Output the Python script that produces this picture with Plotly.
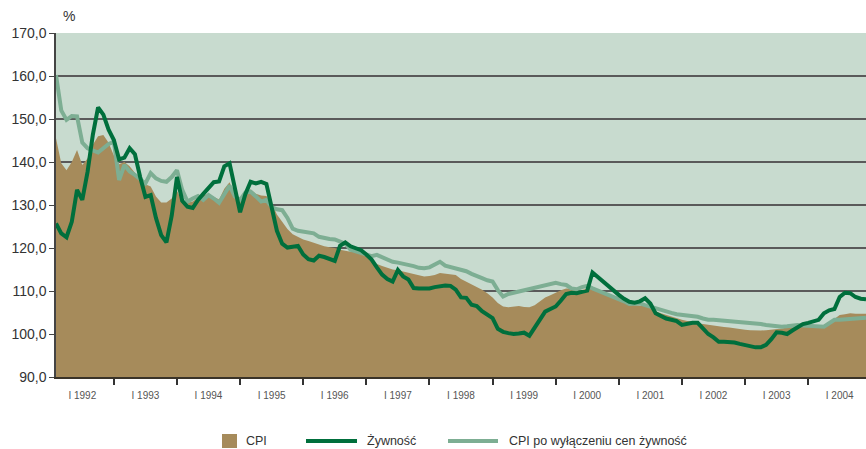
import plotly.graph_objects as go

# Monthly observations (index 0 = first month of 1992)
cpi = [145.5, 139.7, 138.1, 140.0, 142.8, 139.3, 140.8, 144.0, 146.0, 146.3,
       144.5, 141.5, 139.5, 140.0, 139.0, 137.4, 136.0, 134.8, 134.3, 132.0,
       130.6, 130.6, 131.5, 133.3, 130.8, 130.5, 130.8, 131.7, 132.3, 132.5,
       131.8, 131.3, 133.8, 135.3, 132.3, 131.0, 133.2, 133.6, 132.6, 132.2,
       132.1, 130.5, 127.8, 126.0, 124.4, 123.2, 122.5, 122.0, 121.6, 121.2,
       120.7, 120.4, 120.2, 120.0, 119.6, 119.3, 119.1, 119.0, 118.8, 118.1,
       117.2, 116.3, 115.8, 115.4, 115.0, 114.8, 114.5, 114.2, 113.9, 113.6,
       113.4, 113.5, 113.7, 114.2, 114.0, 113.8, 113.7, 112.8, 112.2, 111.6,
       111.0, 110.3, 109.5, 108.5, 107.2, 106.4, 106.2, 106.3, 106.5, 106.3,
       106.2, 106.7, 107.6, 108.5, 109.0, 109.6, 110.2, 110.6, 110.5, 109.9,
       110.3, 110.6, 110.4, 110.0, 109.8, 109.5, 108.9, 108.3, 107.6, 107.0,
       106.7, 106.6, 106.5, 106.2, 105.3, 104.8, 104.4, 104.0, 103.7, 103.3,
       103.0, 102.9, 102.5, 102.3, 102.1, 101.9, 101.8, 101.6, 101.5, 101.3,
       101.1, 101.0, 100.9, 100.8, 100.8, 100.9, 101.0, 101.1, 101.3, 101.5,
       101.6, 101.7, 101.7, 101.7, 101.6, 101.7, 102.0, 102.6, 103.5, 104.4,
       104.6, 104.8, 104.7, 104.7, 104.7]

zywnosc = [125.7, 123.4, 122.5, 126.1, 133.5, 131.2, 137.7, 146.3, 152.7, 151.0,
           147.5, 145.1, 140.6, 141.0, 143.2, 141.8, 136.5, 131.9, 132.3, 127.0,
           123.0, 121.3, 127.5, 136.5, 131.0, 129.6, 129.3, 131.2, 132.6, 134.0,
           135.3, 135.5, 139.0, 139.7, 133.5, 128.3, 132.5, 135.4, 135.0, 135.4,
           134.9, 129.5, 124.0, 121.0, 120.1, 120.3, 120.5, 118.5, 117.4, 117.1,
           118.2, 117.9, 117.4, 117.0, 120.5, 121.3, 120.4, 120.0, 119.5, 118.5,
           117.3, 115.5, 113.8, 112.8, 112.2, 114.9, 113.4, 112.7, 110.7, 110.6,
           110.6, 110.6, 110.9, 111.2, 111.3, 111.2, 110.3, 108.5, 108.4, 106.8,
           106.5, 105.3, 104.4, 103.7, 101.2, 100.5, 100.2, 100.0, 100.1, 100.3,
           99.6, 101.5, 103.6, 105.2, 105.8, 106.4, 107.8, 109.3, 109.6, 109.5,
           109.8, 110.1, 114.3, 113.2, 112.3, 111.1, 110.1, 109.1, 108.2, 107.5,
           107.3, 107.6, 108.3, 107.1, 104.8, 104.2, 103.6, 103.3, 103.0, 102.1,
           102.4, 102.6, 102.6, 101.2, 100.0, 99.2, 98.2, 98.2, 98.2, 98.0,
           97.7, 97.4, 97.0, 96.9, 96.9, 97.5, 98.8, 100.4, 100.3, 100.0,
           100.8, 101.5, 102.3, 102.6, 102.9, 103.3, 104.8, 105.5, 105.8, 108.6,
           109.6, 109.5, 108.6, 108.2, 108.1]

cpi_bez_zywnosci = [160.2, 152.0, 149.8, 150.7, 150.6, 144.5, 143.2, 142.6, 142.2, 143.2,
                    144.2, 144.7, 135.8, 139.3, 137.8, 137.0, 136.0, 135.0, 137.4, 136.2,
                    135.6, 135.4, 136.5, 138.1, 133.5, 130.8, 131.5, 132.1, 131.2, 132.3,
                    131.5, 130.5, 132.5, 134.5, 132.0, 131.2, 132.9, 133.1, 132.0, 130.8,
                    131.2, 129.5, 129.0, 128.8, 127.0, 124.5, 124.0, 123.8, 123.6, 123.4,
                    122.6, 122.3, 122.1, 122.0, 121.4, 121.0, 119.6, 119.2, 118.8, 118.4,
                    118.1, 118.4, 117.8, 117.3, 116.8, 116.6, 116.4, 116.1, 115.8, 115.4,
                    115.3, 115.5, 116.2, 116.8, 115.9, 115.6, 115.3, 115.0, 114.6, 114.0,
                    113.4, 113.0, 112.5, 112.2, 110.2, 108.7, 109.3, 109.6, 109.8, 110.1,
                    110.4, 110.8, 111.1, 111.5, 111.8, 111.9, 111.6, 111.4, 110.6, 110.4,
                    110.9, 111.2, 110.6, 110.1, 109.8, 109.3, 108.8, 108.2, 107.6, 107.0,
                    107.1, 107.1, 106.7, 106.3, 106.0, 105.6, 105.1, 104.9, 104.6, 104.5,
                    104.3, 104.1, 104.0, 103.6, 103.3, 103.3, 103.2, 103.1, 103.1, 102.9,
                    102.8, 102.6, 102.6, 102.5, 102.3, 102.1, 101.9, 101.8, 101.7, 101.8,
                    102.0, 102.1, 102.0, 101.9, 101.8, 101.7, 101.7, 102.5, 103.3, 103.3,
                    103.4, 103.5, 103.6, 103.7, 103.8]

years = [1992, 1993, 1994, 1995, 1996, 1997, 1998, 1999, 2000, 2001, 2002, 2003, 2004]
year_labels = ["I " + str(y) for y in years]
y_ticks = [90, 100, 110, 120, 130, 140, 150, 160, 170]

months = list(range(len(cpi)))
label_pos = [5 + 12 * i for i in range(len(years))]
boundary_pos = [11 + 12 * i for i in range(len(years) - 1)]

C_CPI = "#a68b5b"
C_FOOD = "#006f3c"
C_CORE = "#7dae93"
BG = "#c8dbcf"

fig = go.Figure()
fig.add_trace(go.Scatter(x=months, y=cpi, mode="lines", fill="tozeroy",
                         fillcolor=C_CPI, line=dict(width=0, color=C_CPI),
                         name="CPI", showlegend=False, hoverinfo="skip"))
fig.add_trace(go.Scatter(x=months, y=cpi_bez_zywnosci, mode="lines",
                         line=dict(width=4, color=C_CORE),
                         name="CPI po wyłączeniu cen żywność", showlegend=False))
fig.add_trace(go.Scatter(x=months, y=zywnosc, mode="lines",
                         line=dict(width=4, color=C_FOOD),
                         name="Żywność", showlegend=False))

font_main = "Liberation Sans, Arial, sans-serif"

fig.update_layout(
    width=866, height=449,
    margin=dict(l=56, r=0, t=33, b=72),
    paper_bgcolor="white",
    plot_bgcolor=BG,
    separators=", ",
    xaxis=dict(
        range=[0, len(cpi) - 1],
        tickmode="array", tickvals=label_pos, ticktext=year_labels,
        ticks="outside", ticklen=8, tickcolor="rgba(0,0,0,0)",
        minor=dict(tickmode="array", tickvals=boundary_pos, ticks="outside",
                   ticklen=6, tickwidth=1.5, tickcolor="#333", showgrid=False),
        showgrid=False, zeroline=False,
        showline=True, linecolor="#3a3328", linewidth=2,
        tickfont=dict(family=font_main, size=10, color="#555"),
    ),
    yaxis=dict(
        range=[90, 170],
        tickmode="array", tickvals=y_ticks, tickformat=".1f",
        ticks="outside", ticklen=5, tickcolor="#444", tickwidth=1,
        showgrid=True, gridcolor="#5a5a5a", gridwidth=2,
        zeroline=False,
        showline=True, linecolor="#444", linewidth=1.5,
        tickfont=dict(family=font_main, size=14, color="#333"),
    ),
    showlegend=False,
)

# "%" unit label
fig.add_annotation(text="%", xref="paper", yref="paper", x=0.006, y=1.02,
                   xanchor="left", yanchor="bottom", showarrow=False,
                   font=dict(family=font_main, size=14, color="#333"))

# Custom legend (paper coordinates relative to the plot area)
W, H = 810.0, 344.0
def px(xp):
    return (xp - 56) / W
def py(yp):
    return (377 - yp) / H

legend_font = dict(family=font_main, size=12.5, color="#333")
ly = 441
fig.add_shape(type="rect", xref="paper", yref="paper",
              x0=px(222), x1=px(237), y0=py(434), y1=py(448),
              fillcolor=C_CPI, line=dict(width=0))
fig.add_annotation(text="CPI", xref="paper", yref="paper", x=px(244), y=py(ly),
                   xanchor="left", yanchor="middle", showarrow=False, font=legend_font)
fig.add_shape(type="line", xref="paper", yref="paper",
              x0=px(306), x1=px(357), y0=py(ly), y1=py(ly),
              line=dict(color=C_FOOD, width=4))
fig.add_annotation(text="Żywność", xref="paper", yref="paper", x=px(365), y=py(ly),
                   xanchor="left", yanchor="middle", showarrow=False, font=legend_font)
fig.add_shape(type="line", xref="paper", yref="paper",
              x0=px(448), x1=px(498), y0=py(ly), y1=py(ly),
              line=dict(color=C_CORE, width=4))
fig.add_annotation(text="CPI po wyłączeniu cen żywność", xref="paper", yref="paper",
                   x=px(507), y=py(ly), xanchor="left", yanchor="middle",
                   showarrow=False, font=legend_font)

fig.write_html("out.html",
               config={"displayModeBar": False},
               post_script="document.body.style.margin='0';document.body.style.overflow='hidden';")
